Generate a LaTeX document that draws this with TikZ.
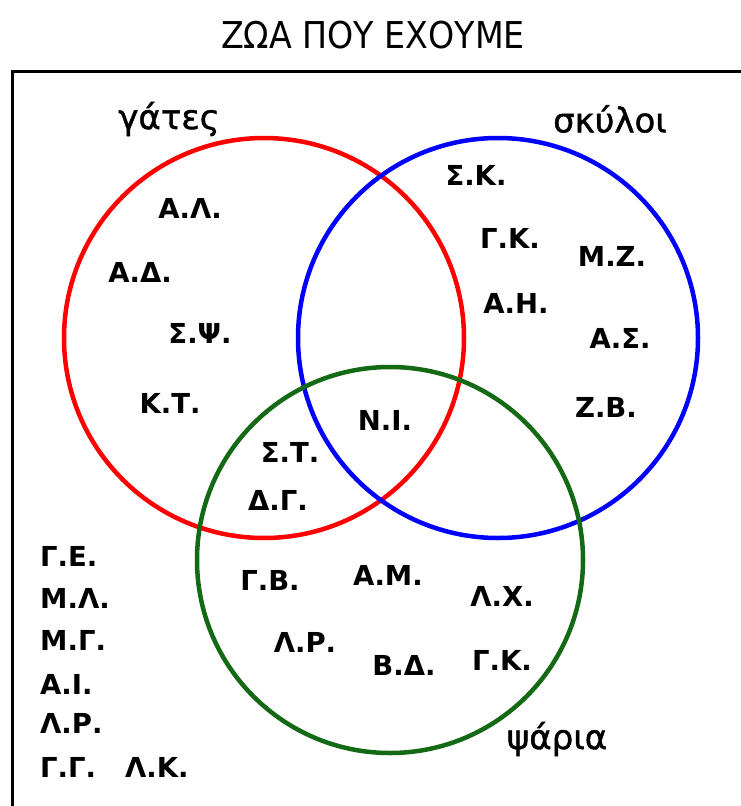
\documentclass[tikz,border=0pt]{standalone}
\usepackage{fontspec}
\setmainfont{DejaVu Sans}
\newfontfamily\condfont{DejaVu Sans Condensed}
\newfontfamily\namefont[FakeBold=1.3]{DejaVu Sans}
\definecolor{setred}{RGB}{255,0,0}
\definecolor{setblue}{RGB}{0,0,255}
\definecolor{setgreen}{RGB}{20,105,20}
\tikzset{
  setring/.style={circle, draw, line width=4.5pt, inner sep=0pt, minimum size=#1},
  initials/.style={font=\fontsize{27.5}{30}\selectfont\bfseries, inner sep=0pt},
  setname/.style={font=\fontsize{34}{38}\selectfont\namefont, inner sep=0pt},
  titletext/.style={font=\fontsize{37}{40}\selectfont\condfont, inner sep=0pt}
}
\begin{document}
\begin{tikzpicture}[x=1pt,y=-1pt]
\useasboundingbox (0,0) rectangle (741,806);
\clip (0,0) rectangle (741,806);
\fill[white] (0,0) rectangle (741,806);
% frame
\coordinate (ftr) at (760,71);
\coordinate (ftl) at (12,71);
\coordinate (fbl) at (12,830);
\draw[line width=3pt] (ftr) -- (ftl) -- (fbl);
% title
\node[titletext] (title) at (373,35) {ΖΩΑ ΠΟΥ ΕΧΟΥΜΕ};
% circles
\node[setring=400pt, setred] (cats) at (264,338) {};
\node[setring=400pt, setblue] (dogs) at (498,338) {};
\node[setring=386pt, setgreen] (fish) at (390,560) {};
% set names
\node[setname] (catsname) at (169,119) {γάτες};
\node[setname] (dogsname) at (610,119) {σκύλοι};
\node[setname] (fishname) at (557,739) {ψάρια};
% cats only
\node[initials] (al) at (190,208) {Α.Λ.};
\node[initials] (ad) at (140,272) {Α.Δ.};
\node[initials] (sps) at (200,333) {Σ.Ψ.};
\node[initials] (kt) at (170,403) {Κ.Τ.};
% dogs only
\node[initials] (sk) at (476,175) {Σ.Κ.};
\node[initials] (gk1) at (510,238) {Γ.Κ.};
\node[initials] (mz) at (612,256) {Μ.Ζ.};
\node[initials] (ah) at (516,303) {Α.Η.};
\node[initials] (as) at (620,338) {Α.Σ.};
\node[initials] (zb) at (606,407) {Ζ.Β.};
% all three
\node[initials] (ni) at (385,420) {Ν.Ι.};
% cats and fish
\node[initials] (st) at (290,452) {Σ.Τ.};
\node[initials] (dg) at (278,500) {Δ.Γ.};
% fish only
\node[initials] (gb) at (270,580) {Γ.Β.};
\node[initials] (am) at (388,575) {Α.Μ.};
\node[initials] (lx) at (502,596) {Λ.Χ.};
\node[initials] (lr1) at (305,642) {Λ.Ρ.};
\node[initials] (bd) at (404,665) {Β.Δ.};
\node[initials] (gk2) at (502,660) {Γ.Κ.};
% none
\node[initials, anchor=west] (ge) at (40,556) {Γ.Ε.};
\node[initials, anchor=west] (ml) at (40,598) {Μ.Λ.};
\node[initials, anchor=west] (mg) at (40,640) {Μ.Γ.};
\node[initials, anchor=west] (ai) at (40,684) {Α.Ι.};
\node[initials, anchor=west] (lr2) at (40,723) {Λ.Ρ.};
\node[initials, anchor=west] (gg) at (40,767) {Γ.Γ.};
\node[initials, anchor=west] (lk) at (125,767) {Λ.Κ.};
\end{tikzpicture}
\end{document}
